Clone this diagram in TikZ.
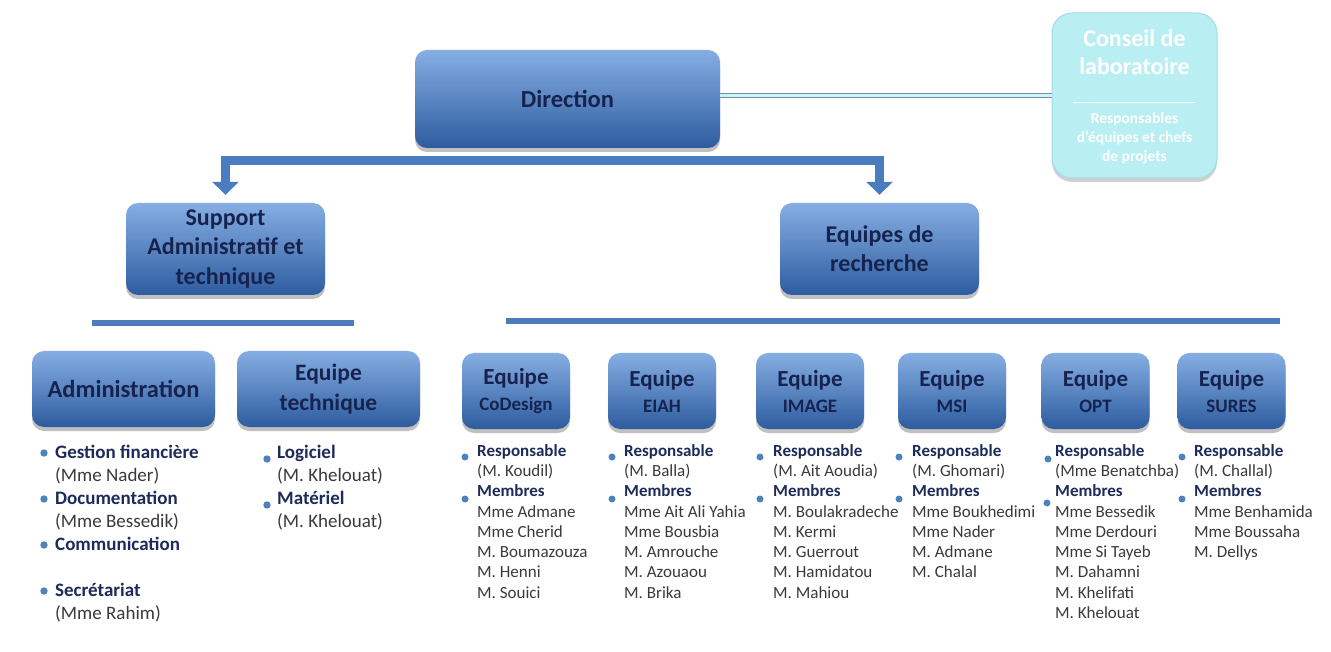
\documentclass[tikz,border=0pt]{standalone}
\usepackage{fontspec}
\setmainfont{Carlito}
\usetikzlibrary{shadows,arrows.meta}
\definecolor{boxtop}{HTML}{86AEE3}
\definecolor{boxbot}{HTML}{2D5C9F}
\definecolor{navy}{HTML}{17234F}
\definecolor{hdcol}{HTML}{1D2B5A}
\definecolor{txtcol}{HTML}{3A3A3A}
\definecolor{bulcol}{HTML}{4F81BD}
\definecolor{barcol}{HTML}{4A7DC0}
\definecolor{sepcol}{HTML}{4C7CB9}
\definecolor{cyanbox}{HTML}{B9EEF3}
\definecolor{cyanedge}{HTML}{A2DDE5}
\definecolor{dblout}{HTML}{6F8FAF}
\definecolor{dblin}{HTML}{CDF3F6}
\newcommand\hdtxt[1]{{\bfseries\color{hdcol}#1}}
\begin{document}
\begin{tikzpicture}[x=1pt,y=-1pt,
  bluebox/.style={rounded corners=12pt, top color=boxtop, bottom color=boxbot,
    text=navy, align=center, inner sep=0pt,
    drop shadow={shadow xshift=0pt, shadow yshift=-4pt, opacity=0.35, fill=black!70}},
  teambox/.style={bluebox, minimum width=108pt, minimum height=76pt,
    font=\fontsize{23}{26}\selectfont\bfseries},
  conseilbox/.style={rounded corners=20pt, fill=cyanbox, draw=cyanedge, line width=1pt,
    drop shadow={shadow xshift=0pt, shadow yshift=-4pt, opacity=0.3, fill=black!60}},
  whitetxt/.style={text=white, align=center, inner sep=0pt, font=\bfseries},
  teamlist/.style={anchor=north west, inner sep=0pt, align=left, text=txtcol,
    font=\fontsize{17}{20.3}\selectfont},
  adlist/.style={anchor=north west, inner sep=0pt, align=left, text=txtcol,
    font=\fontsize{19}{23}\selectfont},
  bul/.style={fill=bulcol},
  bar/.style={draw=barcol, line width=9pt, line join=miter,
    {Triangle[width=26pt,length=13pt]}-{Triangle[width=26pt,length=13pt]},
    shorten <=8pt, shorten >=8pt},
  sep/.style={draw=sepcol, line width=6pt},
  dbl/.style={draw=dblout, line width=0.9pt, double=dblin, double distance=3.5pt}
]
\useasboundingbox (0,0) rectangle (1331,652);
\fill[white] (0,0) rectangle (1331,652);

% top level
\node[bluebox, minimum width=305pt, minimum height=98pt,
  font=\fontsize{24.5}{28}\selectfont\bfseries] (dir) at (567.5,99) {Direction};
\node[conseilbox, minimum width=165pt, minimum height=165pt] (cons) at (1134.5,95.5) {};
\node[whitetxt, font=\fontsize{24}{28}\selectfont\bfseries] (constitle) at (1134.5,52) {Conseil de\\laboratoire};
\draw[white, line width=1pt] (1073,103) -- (1195,103);
\node[whitetxt, font=\fontsize{15.5}{19}\selectfont\bfseries] (conssub) at (1134.5,138) {Responsables\\d'équipes et chefs\\de projets};
\draw[dbl] (cons.west) -- (cons.west -| dir.east);

% second level
\node[bluebox, minimum width=199pt, minimum height=92pt,
  font=\fontsize{24}{29.5}\selectfont\bfseries] (sup) at (225.5,249) {Support\\Administratif et\\technique};
\node[bluebox, minimum width=199pt, minimum height=92pt,
  font=\fontsize{24}{29}\selectfont\bfseries] (eq) at (879.5,249) {Equipes de\\recherche};
\coordinate (hub) at (553,160.5);
\draw[bar] (sup.north) |- (hub) -| (eq.north);

% separators
\draw[sep] (92,323) -- (354,323);
\draw[sep] (506,321) -- (1280,321);

% third level
\node[bluebox, minimum width=183pt, minimum height=76pt,
  font=\fontsize{24.5}{28}\selectfont\bfseries] (adm) at (123.5,389) {Administration};
\node[bluebox, minimum width=183pt, minimum height=76pt,
  font=\fontsize{23.5}{30}\selectfont\bfseries] (tech) at (328.5,389) {Equipe\\technique};
\node[teambox] (codesign) at (516,391) {Equipe\\{\fontsize{19}{19}\selectfont CoDesign}};
\node[teambox] (eiah) at (662,391) {Equipe\\{\fontsize{19}{19}\selectfont EIAH}};
\node[teambox] (image) at (810,391) {Equipe\\{\fontsize{19}{19}\selectfont IMAGE}};
\node[teambox] (msi) at (952,391) {Equipe\\{\fontsize{19}{19}\selectfont MSI}};
\node[teambox] (opt) at (1095.5,391) {Equipe\\{\fontsize{19}{19}\selectfont OPT}};
\node[teambox] (sures) at (1231.5,391) {Equipe\\{\fontsize{19}{19}\selectfont SURES}};

% lists
\node[adlist] (admlist) at (55,445) {\hdtxt{Gestion financière}\\(Mme Nader)\\\hdtxt{Documentation}\\(Mme Bessedik)\\\hdtxt{Communication}\\[23pt]\hdtxt{Secrétariat}\\(Mme Rahim)};
\foreach \y in {453,499,545,591} \fill[bul] (44,\y) circle (3.7);

\node[adlist] (techlist) at (277,445) {\hdtxt{Logiciel}\\(M. Khelouat)\\\hdtxt{Matériel}\\(M. Khelouat)};
\foreach \y in {459,505} \fill[bul] (267,\y) circle (3.7);

\node[teamlist] (codlist) at (477,444) {\hdtxt{Responsable}\\(M. Koudil)\\\hdtxt{Membres}\\Mme Admane\\Mme Cherid\\M. Boumazouza\\M. Henni\\M. Souici};
\node[teamlist] (eiahlist) at (624,444) {\hdtxt{Responsable}\\(M. Balla)\\\hdtxt{Membres}\\Mme Ait Ali Yahia\\Mme Bousbia\\M. Amrouche\\M. Azouaou\\M. Brika};
\node[teamlist] (imglist) at (773,444) {\hdtxt{Responsable}\\(M. Ait Aoudia)\\\hdtxt{Membres}\\M. Boulakradeche\\M. Kermi\\M. Guerrout\\M. Hamidatou\\M. Mahiou};
\node[teamlist] (msilist) at (912,444) {\hdtxt{Responsable}\\(M. Ghomari)\\\hdtxt{Membres}\\Mme Boukhedimi\\Mme Nader\\M. Admane\\M. Chalal};
\node[teamlist] (optlist) at (1055,444) {\hdtxt{Responsable}\\(Mme Benatchba)\\\hdtxt{Membres}\\Mme Bessedik\\Mme Derdouri\\Mme Si Tayeb\\M. Dahamni\\M. Khelifati\\M. Khelouat};
\node[teamlist] (surlist) at (1194,444) {\hdtxt{Responsable}\\(M. Challal)\\\hdtxt{Membres}\\Mme Benhamida\\Mme Boussaha\\M. Dellys};
\foreach \x in {465,612,760,899,1182} {
  \fill[bul] (\x,457) circle (3.5);
  \fill[bul] (\x,499) circle (3.5);
}
\fill[bul] (1048,459) circle (3.5);
\fill[bul] (1047,503) circle (3.5);
\end{tikzpicture}
\end{document}
